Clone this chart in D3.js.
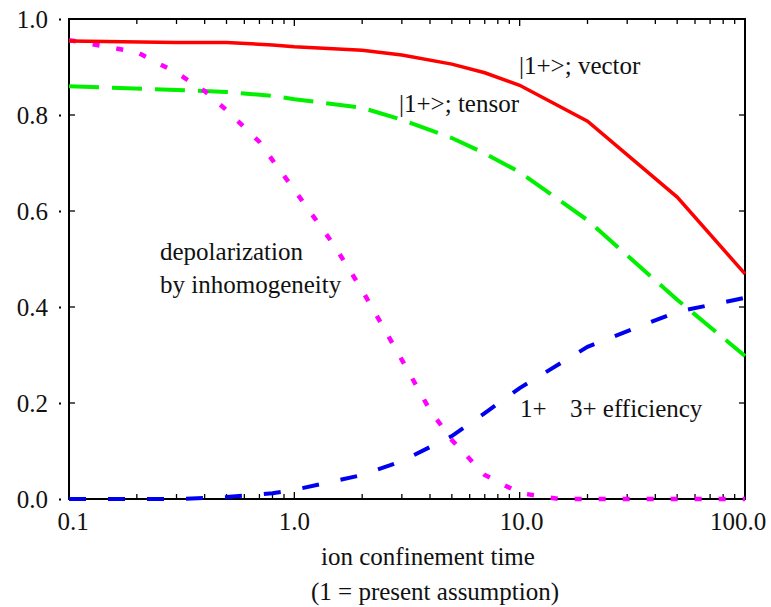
<!DOCTYPE html>
<html><head><meta charset="utf-8">
<script src="https://cdn.jsdelivr.net/npm/d3@7"></script>
</head><body style="margin:0">
<svg id="c" width="771" height="607"></svg>
<script>
// ---- data ----
const xTicks = [0.1, 1, 10, 100];
const xTickLabels = ["0.1", "1.0", "10.0", "100.0"];
const yTicks = [0, 0.2, 0.4, 0.6, 0.8, 1.0];
const yTickLabels = ["0.0", "0.2", "0.4", "0.6", "0.8", "1.0"];

const vectorX = [0.1, 0.3, 0.5, 0.8, 1, 2, 3, 5, 7, 10, 20, 50, 100];
const vectorY = [0.954, 0.951, 0.951, 0.946, 0.942, 0.935, 0.925, 0.906, 0.888, 0.862, 0.787, 0.629, 0.469];

const tensorX = [0.1, 0.3, 0.5, 0.8, 1, 2, 3, 5, 7, 10, 20, 50, 100];
const tensorY = [0.860, 0.852, 0.848, 0.840, 0.833, 0.815, 0.790, 0.752, 0.720, 0.681, 0.581, 0.415, 0.298];

const effX = [0.1, 0.3, 0.5, 0.8, 1, 2, 3, 5, 7, 10, 20, 50, 100];
const effY = [0.0, 0.0, 0.004, 0.012, 0.019, 0.050, 0.079, 0.131, 0.179, 0.231, 0.317, 0.390, 0.419];

const depolX = [0.1, 0.2, 0.3, 0.4, 0.5, 0.7, 0.8, 1, 1.5, 2, 3, 4, 5, 7, 10, 15, 100];
const depolY = [0.956, 0.931, 0.888, 0.850, 0.810, 0.744, 0.706, 0.644, 0.529, 0.435, 0.290, 0.185, 0.123, 0.050, 0.0125, 0.0, 0.0];

const xTitle = "ion confinement time";
const xSubtitle = "(1 = present assumption)";

// ---- layout ----
const svg = d3.select("#c");
const L = 69, T = 19, W = 676, H = 480;
const x = d3.scaleLog().domain([0.1, 100]).range([L, L + W]);
const y = d3.scaleLinear().domain([0, 1]).range([T + H, T]);
const fs = 25;

function txt(s, px, py, anchor) {
  return svg.append("text").attr("x", px).attr("y", py)
    .style("font-family", "Liberation Serif", "important")
    .attr("font-size", fs).attr("fill", "#111")
    .attr("text-anchor", anchor || "start").text(s);
}

// frame
svg.append("rect").attr("x", L).attr("y", T).attr("width", W).attr("height", H)
  .attr("fill", "none").attr("stroke", "#000").attr("stroke-width", 2);

// x ticks (minor + major), bottom and top, inward
const allX = x.ticks();
const g = svg.append("g").attr("stroke", "#000").attr("stroke-width", 1.3);
allX.forEach(v => {
  const major = xTicks.includes(v);
  const len = major ? 7 : 5;
  g.append("line").attr("x1", x(v)).attr("x2", x(v)).attr("y1", T + H).attr("y2", T + H - len);
  g.append("line").attr("x1", x(v)).attr("x2", x(v)).attr("y1", T).attr("y2", T + len);
});
// y ticks left & right, inward
yTicks.forEach(v => {
  g.append("line").attr("x1", L).attr("x2", L + 6).attr("y1", y(v)).attr("y2", y(v));
  g.append("line").attr("x1", L + W).attr("x2", L + W - 6).attr("y1", y(v)).attr("y2", y(v));
  svg.append("rect").attr("x", 59).attr("y", y(v) - 0.5).attr("width", 2).attr("height", 2).attr("fill", "#000");
});

// tick labels
yTicks.forEach((v, i) => {
  txt(yTickLabels[i], 48, y(v), "end").attr("dy", "0.35em");
});
const xLabelShift = [4, 0, 2, -7];
xTicks.forEach((v, i) => {
  txt(xTickLabels[i], x(v) + xLabelShift[i], 530, "middle");
});
txt(xTitle, 428, 565, "middle");
txt(xSubtitle, 435, 600, "middle");

// lines
const line = d3.line().x(d => x(d[0])).y(d => y(d[1]));
const plot = svg.append("g");
function draw(xs, ys, color, dash, w) {
  plot.append("path").datum(xs.map((v, i) => [v, ys[i]]))
    .attr("d", line).attr("fill", "none").attr("stroke", color)
    .attr("stroke-width", w).attr("stroke-dasharray", dash);
}
draw(tensorX, tensorY, "#00f000", "30,13", 4);
draw(effX, effY, "#0000f0", "17,22", 4);
draw(depolX, depolY, "#ff00ff", "7,17", 4.5);
draw(vectorX, vectorY, "#ff0000", null, 3.5);

// annotations
const ann = [
  ["|1+>; vector", 519, 74],
  ["|1+>; tensor", 399, 112],
  ["depolarization", 160, 260],
  ["by inhomogeneity", 160, 293],
  ["1+", 520, 417],
  ["3+ efficiency", 570, 417]
];
ann.forEach(a => txt(a[0], a[1], a[2]));
</script></body></html>
